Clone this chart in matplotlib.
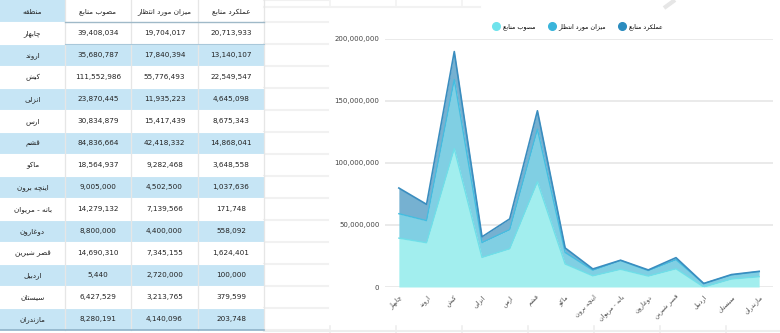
import matplotlib
matplotlib.use("Agg")
import matplotlib.pyplot as plt
from matplotlib.lines import Line2D
from matplotlib.patches import Rectangle
from matplotlib.ticker import FuncFormatter
import numpy as np

plt.rcParams['font.family'] = ['DejaVu Sans']

# ---------------- data ----------------
headers = ['منطقه', 'مصوب منابع', 'میزان مورد انتظار', 'عملکرد منابع']
regions = ['چابهار', 'اروند', 'کیش', 'انزلی', 'ارس', 'قشم', 'ماکو', 'اینچه برون',
           'بانه - مریوان', 'دوغارون', 'قصر شیرین', 'اردبیل', 'سیستان', 'مازندران']
approved = [39408034, 35680787, 111552986, 23870445, 30834879, 84836664, 18564937,
            9005000, 14279132, 8800000, 14690310, 5440, 6427529, 8280191]
expected = [19704017, 17840394, 55776493, 11935223, 15417439, 42418332, 9282468,
            4502500, 7139566, 4400000, 7345155, 2720000, 3213765, 4140096]
actual = [20713933, 13140107, 22549547, 4645098, 8675343, 14868041, 3648558,
          1037636, 171748, 558092, 1624401, 100000, 379599, 203748]
series_names = ['مصوب منابع', 'میزان مورد انتظار', 'عملکرد منابع']

# ---------------- simple Persian shaping (visual order for display) ----------------
FORMS = {
    '\u0622': (0xFE81, 0xFE82, None, None),
    '\u0627': (0xFE8D, 0xFE8E, None, None),
    '\u0628': (0xFE8F, 0xFE90, 0xFE91, 0xFE92),
    '\u067E': (0xFB56, 0xFB57, 0xFB58, 0xFB59),
    '\u062A': (0xFE95, 0xFE96, 0xFE97, 0xFE98),
    '\u062B': (0xFE99, 0xFE9A, 0xFE9B, 0xFE9C),
    '\u062C': (0xFE9D, 0xFE9E, 0xFE9F, 0xFEA0),
    '\u0686': (0xFB7A, 0xFB7B, 0xFB7C, 0xFB7D),
    '\u062D': (0xFEA1, 0xFEA2, 0xFEA3, 0xFEA4),
    '\u062E': (0xFEA5, 0xFEA6, 0xFEA7, 0xFEA8),
    '\u062F': (0xFEA9, 0xFEAA, None, None),
    '\u0630': (0xFEAB, 0xFEAC, None, None),
    '\u0631': (0xFEAD, 0xFEAE, None, None),
    '\u0632': (0xFEAF, 0xFEB0, None, None),
    '\u0698': (0xFB8A, 0xFB8B, None, None),
    '\u0633': (0xFEB1, 0xFEB2, 0xFEB3, 0xFEB4),
    '\u0634': (0xFEB5, 0xFEB6, 0xFEB7, 0xFEB8),
    '\u0635': (0xFEB9, 0xFEBA, 0xFEBB, 0xFEBC),
    '\u0636': (0xFEBD, 0xFEBE, 0xFEBF, 0xFEC0),
    '\u0637': (0xFEC1, 0xFEC2, 0xFEC3, 0xFEC4),
    '\u0638': (0xFEC5, 0xFEC6, 0xFEC7, 0xFEC8),
    '\u0639': (0xFEC9, 0xFECA, 0xFECB, 0xFECC),
    '\u063A': (0xFECD, 0xFECE, 0xFECF, 0xFED0),
    '\u0641': (0xFED1, 0xFED2, 0xFED3, 0xFED4),
    '\u0642': (0xFED5, 0xFED6, 0xFED7, 0xFED8),
    '\u06A9': (0xFB8E, 0xFB8F, 0xFB90, 0xFB91),
    '\u06AF': (0xFB92, 0xFB93, 0xFB94, 0xFB95),
    '\u0644': (0xFEDD, 0xFEDE, 0xFEDF, 0xFEE0),
    '\u0645': (0xFEE1, 0xFEE2, 0xFEE3, 0xFEE4),
    '\u0646': (0xFEE5, 0xFEE6, 0xFEE7, 0xFEE8),
    '\u0648': (0xFEED, 0xFEEE, None, None),
    '\u0647': (0xFEE9, 0xFEEA, 0xFEEB, 0xFEEC),
    '\u06CC': (0xFBFC, 0xFBFD, 0xFBFE, 0xFBFF),
}


def shape(s):
    out = []
    n = len(s)
    for i, c in enumerate(s):
        f = FORMS.get(c)
        if f is None:
            out.append(c)
            continue
        prev = s[i - 1] if i > 0 else ''
        nxt = s[i + 1] if i < n - 1 else ''
        jp = prev in FORMS and FORMS[prev][2] is not None
        jn = f[2] is not None and nxt in FORMS
        if jp and jn:
            code = f[3]
        elif jp:
            code = f[1]
        elif jn:
            code = f[2]
        else:
            code = f[0]
        out.append(chr(code))
    return ''.join(reversed(out))


# ---------------- figure ----------------
W, H = 780, 333
fig = plt.figure(figsize=(W / 100, H / 100), dpi=100)
fig.patch.set_facecolor('white')

# pixel-space overlay for the table
ax0 = fig.add_axes([0, 0, 1, 1])
ax0.set_xlim(0, W)
ax0.set_ylim(H, 0)
ax0.axis('off')

blue = '#c6e5f5'
txt_c = '#222222'
col_edges = [0, 65, 131, 198, 264]
row_h = 22
nrows = len(regions) + 1

# faint background artefacts
for r in range(nrows + 1):
    ax0.plot([264, 328], [r * row_h, r * row_h], color='#f1f1f1', lw=1.5, zorder=0)
ax0.plot([264, W], [331, 331], color='#eeeeee', lw=1.5, zorder=0)
for xv in [330, 396, 462, 528, 594, 660, 726]:
    ax0.plot([xv, xv], [326, 333], color='#eeeeee', lw=1.2, zorder=0)
ax0.plot([264, 480], [7, 7], color='#f2f2f2', lw=1.5, zorder=0)
for xv in [330, 396, 462]:
    ax0.plot([xv, xv], [0, 7], color='#f2f2f2', lw=1.2, zorder=0)
ax0.plot([664, 675], [8, 0], color='#e6e6e6', lw=3, zorder=0, solid_capstyle='butt')

# header row
ax0.add_patch(Rectangle((0, 0), col_edges[1], row_h, facecolor=blue, edgecolor='none', zorder=1))
for j, h in enumerate(headers):
    cx = (col_edges[j] + col_edges[j + 1]) / 2
    ax0.text(cx, row_h / 2 + 1, shape(h), ha='center', va='center', fontsize=5.2, color=txt_c, zorder=3)

# body rows
for i, reg in enumerate(regions):
    y0 = (i + 1) * row_h
    if i % 2 == 1:
        ax0.add_patch(Rectangle((0, y0), col_edges[-1], row_h, facecolor=blue, edgecolor='none', zorder=1))
    cy = y0 + row_h / 2 + 0.5
    vals = [shape(reg), f'{approved[i]:,}', f'{expected[i]:,}', f'{actual[i]:,}']
    for j, v in enumerate(vals):
        cx = (col_edges[j] + col_edges[j + 1]) / 2
        ax0.text(cx, cy, v, ha='center', va='center', fontsize=5.2, color=txt_c, zorder=3)

# cell lines
for r in range(1, nrows):
    ax0.plot([0, col_edges[-1]], [r * row_h, r * row_h], color='white', lw=0.8, zorder=2)
for xv in col_edges[1:]:
    ax0.plot([xv, xv], [0, nrows * row_h], color='#e6e6e6', lw=0.9, zorder=2)
ax0.plot([col_edges[1], col_edges[-1]], [row_h, row_h], color='#9fb9c8', lw=1.0, zorder=2)
ax0.plot([col_edges[1], col_edges[-1]], [2 * row_h, 2 * row_h], color='#a9c8da', lw=0.8, zorder=2)
ax0.plot([0, col_edges[-1]], [nrows * row_h, nrows * row_h], color='#8fb3c9', lw=1.2, zorder=2)

# ---------------- stacked area chart ----------------
left, right = 385, 773
top_px, bot_px = 39, 287
ax = fig.add_axes([left / W, 1 - bot_px / H, (right - left) / W, (bot_px - top_px) / H])
ax.set_facecolor('none')

x = np.arange(len(regions))
s1 = np.array(approved, dtype=float)
s2 = s1 + np.array(expected, dtype=float)
s3 = s2 + np.array(actual, dtype=float)

fills = ['#a2eeee', '#80cfe3', '#76b1d1']
edges = ['#6fdfe8', '#44bde0', '#3a8dbf']
ax.fill_between(x, s2, s3, color=fills[2], lw=0, zorder=2)
ax.fill_between(x, s1, s2, color=fills[1], lw=0, zorder=2)
ax.fill_between(x, 0, s1, color=fills[0], lw=0, zorder=2)
ax.plot(x, s1, color=edges[0], lw=1.0, zorder=3)
ax.plot(x, s2, color=edges[1], lw=1.0, zorder=3)
ax.plot(x, s3, color=edges[2], lw=1.2, zorder=3)

ax.set_xlim(-0.5, len(regions) - 0.5)
ax.set_ylim(0, 200_000_000)
ax.set_yticks([0, 50_000_000, 100_000_000, 150_000_000, 200_000_000])
ax.yaxis.set_major_formatter(FuncFormatter(lambda v, p: f'{v:,.0f}'))
ax.grid(axis='y', color='#e8e8e8', lw=1.3, zorder=0)
ax.set_axisbelow(True)
for sp in ax.spines.values():
    sp.set_visible(False)
ax.tick_params(axis='y', length=0, pad=4, labelsize=5.0, labelcolor='#444444')
ax.set_xticks(x)
ax.set_xticklabels([shape(r) for r in regions], rotation=45, ha='right',
                   rotation_mode='anchor', fontsize=4.6, color='#444444')
ax.tick_params(axis='x', length=0, pad=5)

# legend
legend_colors = ['#6fe3ec', '#3ab5db', '#2b8cbf']
handles = [Line2D([], [], marker='o', ls='none', markersize=5.5, markerfacecolor=c,
                  markeredgecolor=c) for c in legend_colors]
fig.legend(handles, [shape(n) for n in series_names], loc='center',
           bbox_to_anchor=(578 / W, 1 - 27 / H), ncol=3, frameon=False,
           fontsize=4.6, handletextpad=0.6, columnspacing=2.0, handlelength=1.0)

fig.savefig('out.png', dpi=100, facecolor='white')
